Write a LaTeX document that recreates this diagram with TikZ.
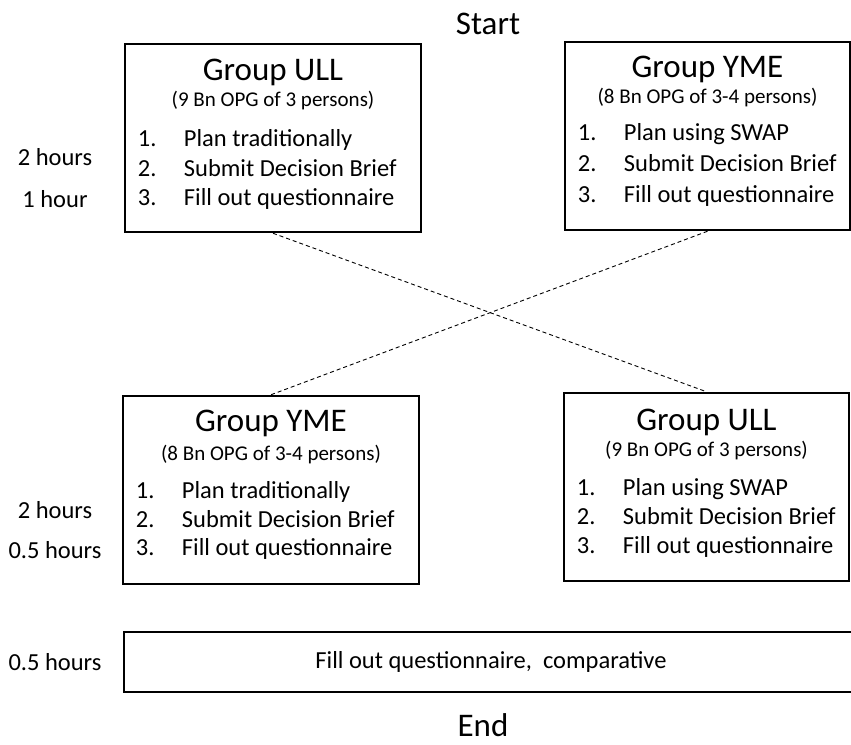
\documentclass[tikz,border=0pt]{standalone}
\usepackage{fontspec}
\setmainfont{Carlito}
\usetikzlibrary{positioning}
\tikzset{
  groupbox/.style={draw,line width=2.5pt,rectangle,inner sep=0,minimum width=296pt,minimum height=188pt},
  grouptitle/.style={anchor=base,inner sep=0,font=\fontsize{33}{38}\selectfont},
  groupsub/.style={anchor=base,inner sep=0,font=\fontsize{21}{25}\selectfont},
  listitem/.style={anchor=base west,inner sep=0,font=\fontsize{24.5}{29}\selectfont},
  timelabel/.style={anchor=base,inner sep=0,font=\fontsize{24.5}{29}\selectfont},
  stage/.style={anchor=base,inner sep=0,font=\fontsize{33}{38}\selectfont},
  crossline/.style={draw,line width=0.9pt,dash pattern=on 4pt off 3pt}
}
\def \numx {14pt}
\def \txtx {60pt}

\begin{document}
\begin{tikzpicture}[x=1pt,y=-1pt]
  \useasboundingbox (0,0) rectangle (851,744);
  \node[stage] (start) at (488,34) {Start};

  % first session
  \node[groupbox] (ull1) at (273,138) {};
  \node[grouptitle] (ull1title) at ([yshift=-38pt]ull1.north) {Group ULL};
  \node[groupsub] (ull1sub) at ([yshift=-64pt]ull1.north) {(9 Bn OPG of 3 persons)};
  \foreach \n/\txt [count=\k from 0] in {1./Plan traditionally,2./Submit Decision Brief,3./Fill out questionnaire} {
    \pgfmathsetmacro\dy{104+29.5*\k}
    \node[listitem] (ull1n\k) at ([xshift=\numx,yshift=-\dy pt]ull1.north west) {\n};
    \node[listitem] (ull1t\k) at ([xshift=\txtx,yshift=-\dy pt]ull1.north west) {\txt};
  }

  \node[groupbox,minimum width=285pt] (yme1) at (707.5,136) {};
  \node[grouptitle] (yme1title) at ([yshift=-37pt]yme1.north) {Group YME};
  \node[groupsub] (yme1sub) at ([yshift=-63pt]yme1.north) {(8 Bn OPG of 3-4 persons)};
  \foreach \n/\txt [count=\k from 0] in {1./Plan using SWAP,2./Submit Decision Brief,3./Fill out questionnaire} {
    \pgfmathsetmacro\dy{100+31*\k}
    \node[listitem] (yme1n\k) at ([xshift=\numx,yshift=-\dy pt]yme1.north west) {\n};
    \node[listitem] (yme1t\k) at ([xshift=\txtx,yshift=-\dy pt]yme1.north west) {\txt};
  }

  \node[timelabel] (time1a) at (55,165) {2 hours};
  \node[timelabel] (time1b) at (55,207) {1 hour};

  % second session
  \node[groupbox] (yme2) at (271,490) {};
  \node[grouptitle] (yme2title) at ([yshift=-37pt]yme2.north) {Group YME};
  \node[groupsub] (yme2sub) at ([yshift=-66pt]yme2.north) {(8 Bn OPG of 3-4 persons)};
  \foreach \n/\txt [count=\k from 0] in {1./Plan traditionally,2./Submit Decision Brief,3./Fill out questionnaire} {
    \pgfmathsetmacro\dy{104+28.5*\k}
    \node[listitem] (yme2n\k) at ([xshift=\numx,yshift=-\dy pt]yme2.north west) {\n};
    \node[listitem] (yme2t\k) at ([xshift=\txtx,yshift=-\dy pt]yme2.north west) {\txt};
  }

  \node[groupbox,minimum width=285pt] (ull2) at (706.5,487) {};
  \node[grouptitle] (ull2title) at ([yshift=-39pt]ull2.north) {Group ULL};
  \node[groupsub] (ull2sub) at ([yshift=-65pt]ull2.north) {(9 Bn OPG of 3 persons)};
  \foreach \n/\txt [count=\k from 0] in {1./Plan using SWAP,2./Submit Decision Brief,3./Fill out questionnaire} {
    \pgfmathsetmacro\dy{104+29*\k}
    \node[listitem] (ull2n\k) at ([xshift=\numx,yshift=-\dy pt]ull2.north west) {\n};
    \node[listitem] (ull2t\k) at ([xshift=\txtx,yshift=-\dy pt]ull2.north west) {\txt};
  }

  \node[timelabel] (time2a) at (55,518) {2 hours};
  \node[timelabel] (time2b) at (55,558) {0.5 hours};

  % groups swap
  \draw[crossline] (ull1.south) -- (ull2.north);
  \draw[crossline] (yme1.south) -- (yme2.north);

  % closing
  \node[groupbox,minimum width=734pt,minimum height=60pt,font=\fontsize{24.5}{29}\selectfont] (final) at (491,662) {Fill out questionnaire, \ comparative};
  \node[timelabel] (time3) at (55,670) {0.5 hours};
  \node[stage] (end) at (483,736) {End};
\end{tikzpicture}
\end{document}
